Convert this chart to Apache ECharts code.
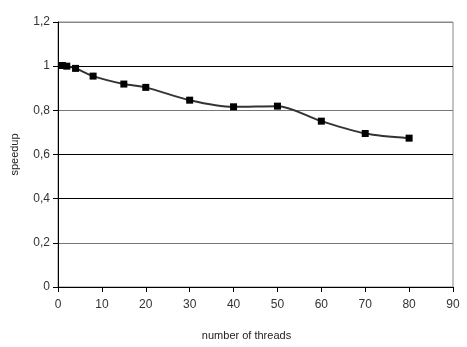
<!DOCTYPE html>
<html>
<head>
<meta charset="utf-8">
<script src="https://cdn.jsdelivr.net/npm/echarts@6/dist/echarts.min.js"></script>
<style>
  html, body { margin: 0; padding: 0; background: #fff; }
  #chart { width: 467px; height: 347px; }
</style>
</head>
<body>
<div id="chart"></div>
<script>
var threads = [1, 2, 4, 8, 15, 20, 30, 40, 50, 60, 70, 80];
var speedup = [1.003, 1.0, 0.99, 0.955, 0.919, 0.904, 0.846, 0.816, 0.819, 0.751, 0.695, 0.674];
var xTicks = [0, 10, 20, 30, 40, 50, 60, 70, 80, 90];
var yTicks = [0, 0.2, 0.4, 0.6, 0.8, 1, 1.2];

var chart = echarts.init(document.getElementById('chart'));

var points = threads.map(function (t, i) { return [t, speedup[i]]; });

chart.setOption({
    animation: false,
    textStyle: { fontFamily: 'Liberation Sans' },
    grid: {
        left: 58, right: 14, top: 22, bottom: 60,
        outerBoundsMode: 'none',
        containLabel: false,
        show: true, borderColor: '#888', borderWidth: 1
    },
    xAxis: {
        type: 'value',
        min: xTicks[0],
        max: xTicks[xTicks.length - 1],
        interval: 10,
        name: 'number of threads',
        nameLocation: 'middle',
        nameGap: 43,
        nameTextStyle: { color: '#222', fontSize: 11, padding: [0, 18, 0, 0] },
        axisLine: { onZero: false, lineStyle: { color: '#000', width: 1 } },
        axisTick: { show: true, length: 5, lineStyle: { color: '#000' } },
        axisLabel: { color: '#333', fontSize: 12, margin: 12 },
        splitLine: { show: false }
    },
    yAxis: {
        type: 'value',
        min: yTicks[0],
        max: yTicks[yTicks.length - 1],
        interval: 0.2,
        name: 'speedup',
        nameLocation: 'middle',
        nameGap: 38,
        nameRotate: 90,
        nameTextStyle: { color: '#222', fontSize: 11 },
        axisLine: { show: true, lineStyle: { color: '#000', width: 1 } },
        axisTick: { show: true, length: 5, lineStyle: { color: '#000' } },
        axisLabel: {
            color: '#333', fontSize: 12, margin: 8,
            formatter: function (v) { return String(Math.round(v * 10) / 10).replace('.', ','); }
        },
        splitLine: {
            show: true,
            lineStyle: {
                color: ['#000', '#777', '#000', '#000', '#777', '#000', '#888'],
                width: 1.2
            }
        }
    },
    series: [{
        type: 'line',
        data: points,
        smooth: 0.3,
        symbol: 'rect',
        symbolSize: 7,
        lineStyle: { color: '#333', width: 2 },
        itemStyle: { color: '#000' }
    }]
});
</script>
</body>
</html>
